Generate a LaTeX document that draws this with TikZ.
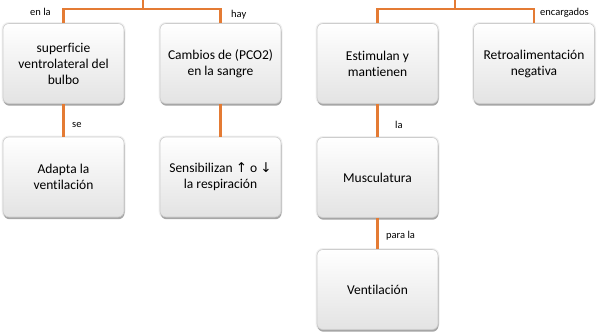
\documentclass[tikz,border=0pt]{standalone}
\usepackage{fontspec}
\setmainfont{Carlito}[Ligatures={NoCommon}]
\newfontfamily\arrowfont{DejaVu Sans}
\definecolor{conncol}{RGB}{228,123,52}
\definecolor{boxedge}{RGB}{205,205,205}
\begin{document}
\begin{tikzpicture}[x=1pt,y=-1pt,
  box/.style={rounded corners=6pt, minimum width=121pt, minimum height=80pt,
    align=center, draw=boxedge, line width=0.6pt,
    top color=white, bottom color=black!11,
    font=\fontsize{13.5}{16}\selectfont,
    preaction={draw=black!6, line width=3pt, fill=black!6},
    preaction={fill=black!35, transform canvas={xshift=0.5pt,yshift=-2.2pt}}},
  conn/.style={draw=conncol, line width=2.6pt},
  lab/.style={font=\fontsize{10.5}{12}\selectfont, inner sep=0pt}]
\useasboundingbox (0,0) rectangle (606,335);
\node[box] (b1) at (63.5,63.5) {superficie\\ventrolateral del\\bulbo};
\node[box] (b2) at (220.5,63.5) {Cambios de (PCO2)\\en la sangre};
\node[box] (b3) at (377.5,63.5) {Estimulan y\\mantienen};
\node[box] (b4) at (534,63.5) {Retroalimentación\\negativa};
\node[box] (b5) at (63.5,177) {Adapta la\\ventilación};
\node[box] (b6) at (220.5,177) {Sensibilizan {\arrowfont\fontsize{13.5}{16}\selectfont ↑} o {\arrowfont\fontsize{13.5}{16}\selectfont ↓}\\la respiración};
\node[box] (b7) at (377.5,177.5) {Musculatura};
\node[box] (b8) at (377.5,289.5) {Ventilación};
\coordinate (t1) at (143,-2);
\coordinate (j1) at (143,9);
\coordinate (t2) at (455,-2);
\coordinate (j2) at (455,9);
\draw[conn] (t1) -- (j1);
\draw[conn] (b1.north) |- (j1) -| (b2.north);
\draw[conn] (t2) -- (j2);
\draw[conn] (b3.north) |- (j2) -| (b4.north);
\draw[conn] (b1.south) -- (b5.north);
\draw[conn] (b2.south) -- (b6.north);
\draw[conn] (b3.south) -- (b7.north);
\draw[conn] (b7.south) -- (b8.north);
\node[lab, anchor=west] (l1) at (30,12) {en la};
\node[lab, anchor=west] (l2) at (231,15) {hay};
\node[lab, anchor=west] (l3) at (540,13) {encargados};
\node[lab, anchor=west] (l4) at (72,125) {se};
\node[lab, anchor=west] (l5) at (395,125) {la};
\node[lab, anchor=west] (l6) at (386,236) {para la};
\end{tikzpicture}
\end{document}
